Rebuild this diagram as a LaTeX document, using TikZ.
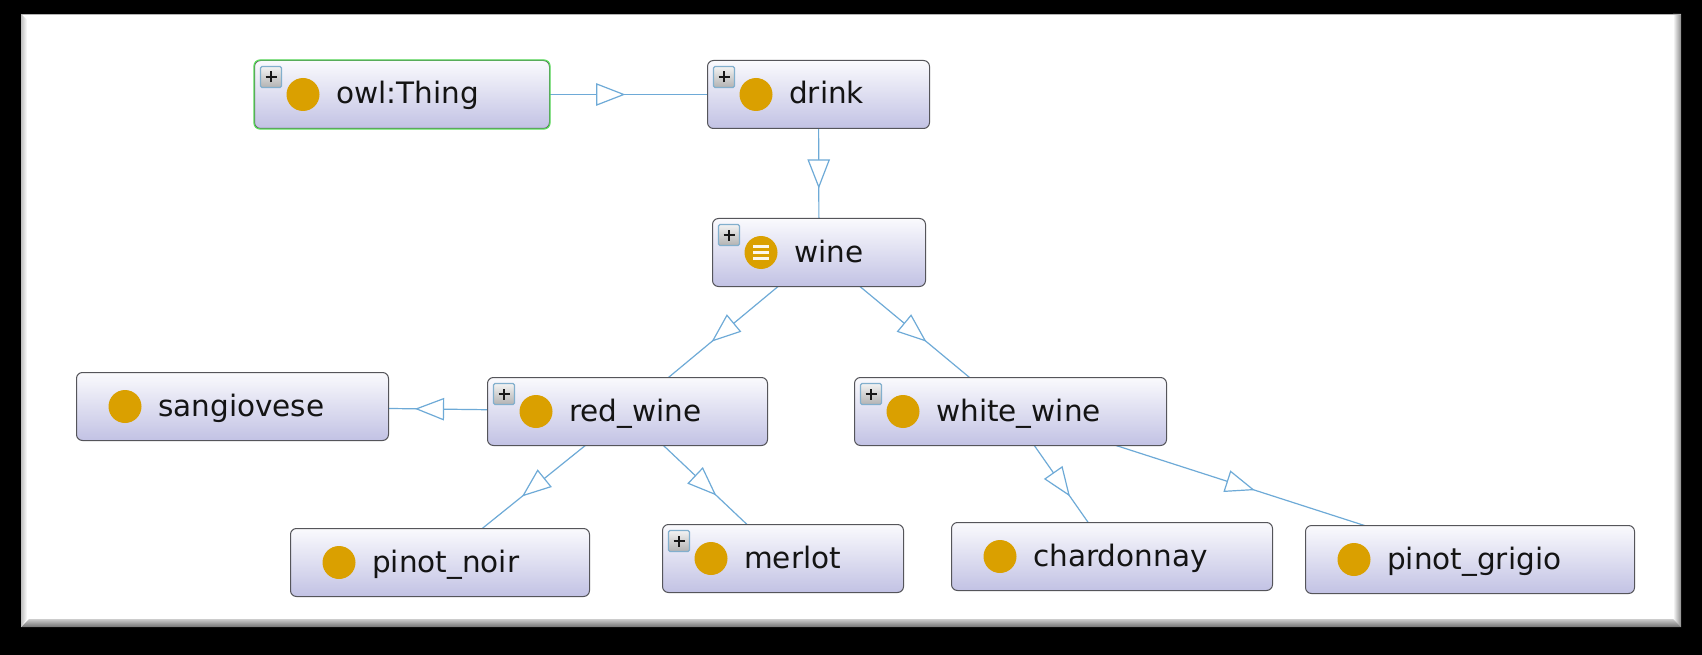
\documentclass[tikz,border=0pt]{standalone}
\usepackage{fontspec}
\setmainfont{DejaVu Sans}
\usetikzlibrary{decorations.markings}
\pgfdeclarelayer{back}\pgfdeclarelayer{edges}
\pgfsetlayers{back,edges,main}
\definecolor{orng}{RGB}{218,160,0}
\definecolor{edgeblue}{RGB}{110,170,215}
\definecolor{bordergray}{RGB}{85,85,90}
\definecolor{nodetop}{RGB}{250,250,253}
\definecolor{nodebot}{RGB}{194,194,228}
\definecolor{thinggreen}{RGB}{90,220,90}
\definecolor{plusblue}{RGB}{130,175,205}
\tikzset{
  cls/.style={rectangle, rounded corners=6pt, draw=bordergray, line width=1pt,
    top color=nodetop, bottom color=nodebot, minimum height=68pt, inner sep=0pt, anchor=north west},
  dot/.style={circle, fill=orng, minimum size=33pt, inner sep=0pt},
  lbl/.style={inner sep=0pt, text=black!92, font=\fontsize{29.5}{33}\selectfont},
  plusbox/.style={rectangle, minimum size=21pt, inner sep=0pt, draw=plusblue, line width=1.3pt,
    top color=black!5, bottom color=black!30, rounded corners=1.5pt,
    path picture={\draw[line width=2.2pt, black!90]
      ([xshift=-5.5pt]path picture bounding box.center) -- ([xshift=5.5pt]path picture bounding box.center)
      ([yshift=-5.5pt]path picture bounding box.center) -- ([yshift=5.5pt]path picture bounding box.center);}},
  conn/.style={draw=edgeblue, line width=1.2pt, postaction={decorate},
    decoration={markings, mark=at position 0.5 with {\draw[edgeblue, line width=1.2pt, fill=white, line join=miter]
      (13.5pt,0pt) -- (-13.5pt,10.5pt) -- (-13.5pt,-10.5pt) -- cycle;}}}
}
\newcommand\owlcls[5]{%
  \node[cls, minimum width=#4] (#1) at (#2,#3) {};
  \node[dot] (#1-dot) at ([xshift=49pt]#1.west) {};
  \node[lbl, anchor=base west] (#1-t) at ([xshift=82pt, yshift=-9.5pt]#1.west) {#5};
}
\newcommand\plusicon[1]{\node[plusbox] (#1-p) at ([xshift=17pt,yshift=-17pt]#1.north west) {};}
\begin{document}
\begin{tikzpicture}[x=1pt,y=-1pt]
\useasboundingbox (0,0) rectangle (1702,655);
\begin{pgfonlayer}{back}
  \fill[black] (0,0) rectangle (1702,655);
  \fill[white] (21,14) rectangle (1681,627);
  \shade[left color=white, right color=black!45] (1673,14) -- (1681,14) -- (1681,627) -- (1673,619) -- cycle;
  \shade[top color=black!20, bottom color=black!55] (21,627) -- (29,619) -- (1673,619) -- (1681,627) -- cycle;
  \shade[left color=black!25, right color=white] (21,14) -- (27,20) -- (27,619) -- (21,627) -- cycle;
  \draw[black!30, line width=0.8pt] (21,14.4) -- (1681,14.4);
\end{pgfonlayer}

\owlcls{thing}{254}{60}{295}{owl:Thing}
\draw[thinggreen, line width=1.2pt, rounded corners=6pt] (thing.north west) rectangle (thing.south east);
\plusicon{thing}
\owlcls{drink}{707}{60}{222}{drink}
\plusicon{drink}
\owlcls{wine}{712}{218}{213}{wine}
\plusicon{wine}
\foreach \dy in {-6,0,6}
  \draw[white!92!orng, line width=2.6pt] ([xshift=-8pt,yshift=\dy pt]wine-dot.center) -- ([xshift=8pt,yshift=\dy pt]wine-dot.center);
\owlcls{sang}{76}{372}{312}{sangiovese}
\owlcls{red}{487}{377}{280}{red\_wine}
\plusicon{red}
\owlcls{white}{854}{377}{312}{white\_wine}
\plusicon{white}
\owlcls{pnoir}{290}{528}{299}{pinot\_noir}
\owlcls{merlot}{662}{524}{241}{merlot}
\plusicon{merlot}
\owlcls{chard}{951}{522}{321}{chardonnay}
\owlcls{pgrig}{1305}{525}{329}{pinot\_grigio}

\begin{pgfonlayer}{edges}
  \draw[conn] (thing.center) -- (drink.center);
  \draw[conn] (drink.center) -- (wine.center);
  \draw[conn] (wine.center) -- (red.center);
  \draw[conn] (wine.center) -- (white.center);
  \draw[conn] (red.center) -- (sang.center);
  \draw[conn] (red.center) -- (pnoir.center);
  \draw[conn] (red.center) -- (merlot.center);
  \draw[conn] (white.center) -- (chard.center);
  \draw[conn] (white.center) -- (pgrig.center);
\end{pgfonlayer}
\end{tikzpicture}
\end{document}
